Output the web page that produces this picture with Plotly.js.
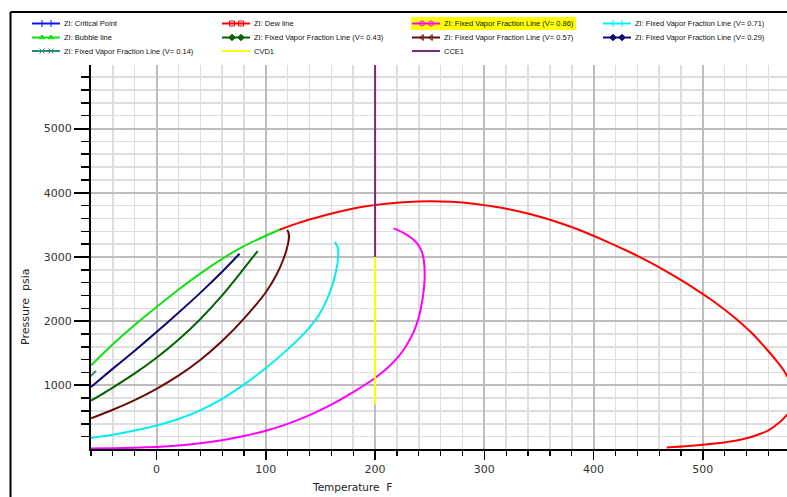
<!DOCTYPE html>
<html>
<head>
<meta charset="utf-8">
<script src="https://cdn.plot.ly/plotly-3.0.1.min.js"></script>
<style>
  html, body { margin: 0; padding: 0; background: #fff; }
  #chart { width: 787px; height: 497px; }
</style>
</head>
<body>
<div id="chart"></div>
<script>
// ---------------- data (Temperature F, Pressure psia) ----------------
const criticalT = [113];
const criticalP = [3427];

const dewT = [113, 130, 150, 170, 190, 210, 230, 250, 270, 290, 310, 330, 350, 370, 390, 410, 430, 450, 470, 490, 510, 530, 545, 558, 568, 574, 579, 583, 585, 583, 577, 570, 560, 545, 525, 500, 467];
const dewP = [3427, 3530, 3630, 3715, 3785, 3830, 3857, 3866, 3858, 3830, 3782, 3715, 3630, 3525, 3400, 3255, 3100, 2930, 2740, 2535, 2305, 2040, 1810, 1570, 1370, 1234, 1080, 930, 790, 650, 540, 420, 300, 200, 125, 75, 30];

const bubbleT = [-60, -40, -20, 0, 20, 40, 60, 80, 100, 113];
const bubbleP = [1310, 1640, 1940, 2220, 2490, 2740, 2970, 3170, 3330, 3427];

const v86T = [-60, -40, -20, 0, 20, 40, 60, 80, 100, 120, 140, 160, 180, 200, 210, 220, 228, 235, 240, 243.5, 245.3, 244.6, 242.5, 238.5, 233, 226, 217];
const v86P = [15, 20, 28, 40, 62, 97, 145, 210, 293, 400, 535, 700, 895, 1115, 1250, 1420, 1600, 1820, 2060, 2350, 2650, 2950, 3090, 3210, 3300, 3375, 3445];

const v71T = [-60, -40, -20, 0, 20, 40, 60, 80, 100, 120, 140, 148, 155, 160.5, 164.3, 166.2, 165.8, 163.3];
const v71P = [180, 230, 295, 375, 475, 610, 790, 1010, 1270, 1560, 1900, 2080, 2300, 2540, 2780, 3000, 3150, 3234];

const v57T = [-60, -40, -20, 0, 20, 40, 60, 80, 100, 110, 116, 120, 121.3, 120.5, 119.5];
const v57P = [485, 620, 770, 945, 1150, 1395, 1690, 2040, 2450, 2730, 2960, 3180, 3320, 3390, 3420];

const v43T = [-60, -40, -20, 0, 20, 40, 60, 80, 92.5];
const v43P = [760, 965, 1185, 1430, 1710, 2030, 2400, 2820, 3090];

const v29T = [-60, -40, -20, 0, 20, 40, 60, 76];
const v29P = [975, 1260, 1540, 1830, 2130, 2440, 2770, 3050];

const v14T = [-62, -60, -57.5, -55.5];
const v14P = [1120, 1150, 1190, 1225];

const cvdT = [200, 200];
const cvdP = [700, 3000];

const cceT = [200, 200];
const cceP = [3000, 6500];

const xTickVals = [0, 100, 200, 300, 400, 500];
const yTickVals = [1000, 2000, 3000, 4000, 5000];

// legend entries (row-major order, 4 columns)
const legendNames = [
  'ZI: Critical Point', 'ZI: Dew line', 'ZI: Fixed Vapor Fraction Line (V= 0.86)', 'ZI: Fixed Vapor Fraction Line (V= 0.71)',
  'ZI: Bubble line', 'ZI: Fixed Vapor Fraction Line (V= 0.43)', 'ZI: Fixed Vapor Fraction Line (V= 0.57)', 'ZI: Fixed Vapor Fraction Line (V= 0.29)',
  'ZI: Fixed Vapor Fraction Line (V= 0.14)', 'CVD1', 'CCE1'
];
const legendColors = ['#1010ff', '#ff0000', '#ff00ff', '#00f0f0', '#10e010', '#006400', '#6b0a0a', '#0a0a70', '#2e8b7a', '#ffff00', '#7a2a7a'];
const legendSymbols = ['cross-thin-open', 'square-open', 'circle-open', 'cross-thin-open', 'triangle-up', 'diamond', 'triangle-left-open', 'diamond', 'x-thin-open', null, null];

// ---------------- traces ----------------
function line(name, x, y, color, width) {
  return { type: 'scatter', mode: 'lines', name: name, x: x, y: y,
           line: { color: color, width: width || 2, shape: 'spline', smoothing: 0.6 },
           xaxis: 'x', yaxis: 'y', hoverinfo: 'skip', showlegend: false };
}

const traces = [
  { type: 'scatter', mode: 'markers', name: legendNames[0], x: criticalT, y: criticalP,
    marker: { symbol: 'circle', size: 2, color: legendColors[1] },
    xaxis: 'x', yaxis: 'y', showlegend: false, hoverinfo: 'skip' },
  line(legendNames[8], v14T, v14P, legendColors[8], 2),
  line(legendNames[2], v86T, v86P, legendColors[2], 2),
  line(legendNames[3], v71T, v71P, legendColors[3], 2),
  line(legendNames[6], v57T, v57P, legendColors[6], 2),
  line(legendNames[5], v43T, v43P, legendColors[5], 2),
  line(legendNames[7], v29T, v29P, legendColors[7], 2),
  line(legendNames[4], bubbleT, bubbleP, legendColors[4], 2),
  line(legendNames[1], dewT, dewP, legendColors[1], 2),
  { type: 'scatter', mode: 'lines', name: legendNames[9], x: cvdT, y: cvdP, line: { color: legendColors[9], width: 2 },
    xaxis: 'x', yaxis: 'y', showlegend: false, hoverinfo: 'skip' },
  { type: 'scatter', mode: 'lines', name: legendNames[10], x: cceT, y: cceP, line: { color: legendColors[10], width: 2 },
    xaxis: 'x', yaxis: 'y', showlegend: false, hoverinfo: 'skip' }
];

// ---------------- manual legend (pixel coords on overlay axes) ----------------
const colX = [32, 222, 412, 603];
const rowY = [23.5, 37.5, 51];
const lineLen = 28;
const shapes = [];
const annotations = [];

// highlight box for V=0.86 entry
shapes.push({ type: 'rect', xref: 'x2', yref: 'y2', x0: 411, x1: 576, y0: 17, y1: 30,
              fillcolor: '#ffff00', line: { width: 0 }, layer: 'below' });

legendNames.forEach(function (name, i) {
  const c = i % 4, r = Math.floor(i / 4);
  const x0 = colX[c], y0 = rowY[r];
  shapes.push({ type: 'line', xref: 'x2', yref: 'y2', x0: x0, x1: x0 + lineLen, y0: y0, y1: y0,
                line: { color: legendColors[i], width: 2 } });
  if (legendSymbols[i]) {
    traces.push({ type: 'scatter', mode: 'markers', x: [x0 + 10, x0 + 19], y: [y0, y0],
                  xaxis: 'x2', yaxis: 'y2', hoverinfo: 'skip', showlegend: false,
                  marker: { symbol: legendSymbols[i], size: 5, color: legendColors[i],
                            line: { color: legendColors[i], width: 1 } } });
  }
  annotations.push({ xref: 'x2', yref: 'y2', x: x0 + lineLen + 2, y: y0, text: name,
                     showarrow: false, xanchor: 'left', yanchor: 'middle',
                     font: { family: 'Liberation Sans, Arial, sans-serif', size: 7.5, color: '#111' } });
});

// outer frame lines
shapes.push({ type: 'line', xref: 'x2', yref: 'y2', x0: 10.5, x1: 790, y0: 12, y1: 12, line: { color: '#000', width: 2 } });
shapes.push({ type: 'line', xref: 'x2', yref: 'y2', x0: 10.5, x1: 10.5, y0: 12, y1: 500, line: { color: '#000', width: 2 } });

// axis titles
annotations.push({ xref: 'x2', yref: 'y2', x: 352, y: 487, text: 'Temperature&nbsp;&nbsp;F', showarrow: false,
                   xanchor: 'center', yanchor: 'middle',
                   font: { family: 'DejaVu Sans, sans-serif', size: 10.5, color: '#222' } });
annotations.push({ xref: 'x2', yref: 'y2', x: 25, y: 307, text: 'Pressure&nbsp;&nbsp;psia', showarrow: false,
                   textangle: -90, xanchor: 'center', yanchor: 'middle',
                   font: { family: 'DejaVu Sans, sans-serif', size: 11, color: '#222' } });

const W = 787, H = 497;
const layout = {
  width: W, height: H,
  margin: { l: 0, r: 0, t: 0, b: 0, pad: 0 },
  paper_bgcolor: '#ffffff',
  plot_bgcolor: 'rgba(0,0,0,0)',
  showlegend: false,
  font: { family: 'DejaVu Sans, sans-serif', size: 11, color: '#333' },
  xaxis: {
    domain: [91 / W, 1], range: [-60, 577], anchor: 'y',
    tickmode: 'array', tickvals: xTickVals,
    ticks: 'outside', ticklen: 9, tickwidth: 1.5, tickcolor: '#000',
    showline: true, linecolor: '#000', linewidth: 2,
    showgrid: true, gridcolor: '#bdbdbd', gridwidth: 2, zeroline: false,
    tickfont: { family: 'DejaVu Sans, sans-serif', size: 11, color: '#333' },
    minor: { dtick: 20, tick0: 0, ticks: 'outside', ticklen: 5, tickwidth: 1.2, tickcolor: '#000',
             showgrid: true, gridcolor: '#dedede', gridwidth: 1.5 }
  },
  yaxis: {
    domain: [48 / H, 432 / H], range: [8, 5990], anchor: 'x',
    tickmode: 'array', tickvals: yTickVals,
    ticks: 'outside', ticklen: 15, tickwidth: 2, tickcolor: '#000',
    showline: true, linecolor: '#000', linewidth: 2,
    showgrid: true, gridcolor: '#bdbdbd', gridwidth: 2, zeroline: false,
    tickfont: { family: 'DejaVu Sans, sans-serif', size: 11, color: '#333' },
    minor: { dtick: 200, tick0: 0, ticks: 'outside', ticklen: 8, tickwidth: 1.5, tickcolor: '#000',
             showgrid: true, gridcolor: '#dedede', gridwidth: 1.5 }
  },
  xaxis2: { domain: [0, 1], range: [0, W], anchor: 'y2', visible: false, fixedrange: true },
  yaxis2: { domain: [0, 1], range: [H, 0], anchor: 'x2', visible: false, fixedrange: true },
  shapes: shapes,
  annotations: annotations
};

Plotly.newPlot('chart', traces, layout, { staticPlot: true, displayModeBar: false });
</script>
</body>
</html>
